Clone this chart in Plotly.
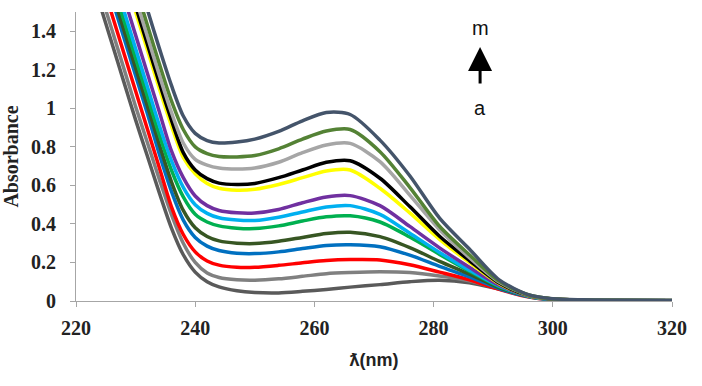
import plotly.graph_objects as go

wavelength = [222, 224, 226, 228, 230, 232, 234, 236, 238, 240, 242, 244, 247, 250, 254, 258,
              262, 266, 271, 276, 281, 286, 291, 296, 300, 305, 310, 320]

abs_a = [1.74, 1.54, 1.34, 1.14, 0.94, 0.75, 0.56, 0.38, 0.24, 0.15, 0.10, 0.073, 0.053, 0.044, 0.042, 0.05,
         0.06, 0.072, 0.085, 0.10, 0.108, 0.095, 0.062, 0.025, 0.01, 0.005, 0.003, 0.002]
abs_b = [1.81, 1.61, 1.41, 1.21, 1.01, 0.82, 0.63, 0.45, 0.30, 0.20, 0.145, 0.122, 0.11, 0.108, 0.115, 0.128,
         0.142, 0.148, 0.152, 0.148, 0.13, 0.105, 0.065, 0.025, 0.009, 0.004, 0.003, 0.002]
abs_c = [1.89, 1.69, 1.49, 1.29, 1.09, 0.89, 0.69, 0.49, 0.345, 0.255, 0.208, 0.186, 0.175, 0.175, 0.185, 0.198,
         0.21, 0.215, 0.213, 0.188, 0.15, 0.11, 0.06, 0.02, 0.006, 0.003, 0.002, 0.001]
abs_d = [1.97, 1.77, 1.57, 1.37, 1.17, 0.97, 0.76, 0.57, 0.42, 0.33, 0.285, 0.262, 0.248, 0.246, 0.255, 0.272,
         0.288, 0.292, 0.282, 0.238, 0.18, 0.125, 0.065, 0.022, 0.007, 0.003, 0.002, 0.001]
abs_e = [2.01, 1.81, 1.61, 1.41, 1.21, 1.01, 0.81, 0.62, 0.47, 0.38, 0.335, 0.312, 0.30, 0.298, 0.31, 0.33,
         0.35, 0.357, 0.334, 0.277, 0.206, 0.14, 0.07, 0.024, 0.008, 0.004, 0.002, 0.001]
abs_f = [2.06, 1.86, 1.66, 1.46, 1.26, 1.06, 0.86, 0.68, 0.54, 0.45, 0.41, 0.39, 0.378, 0.376, 0.39, 0.415,
         0.437, 0.442, 0.41, 0.332, 0.242, 0.155, 0.075, 0.025, 0.009, 0.004, 0.002, 0.001]
abs_g = [2.11, 1.91, 1.71, 1.51, 1.31, 1.11, 0.91, 0.73, 0.59, 0.50, 0.455, 0.432, 0.42, 0.418, 0.435, 0.462,
         0.488, 0.495, 0.45, 0.352, 0.252, 0.16, 0.078, 0.025, 0.009, 0.004, 0.002, 0.001]
abs_h = [2.18, 1.98, 1.78, 1.58, 1.38, 1.18, 0.98, 0.78, 0.64, 0.545, 0.495, 0.47, 0.458, 0.457, 0.475, 0.51,
         0.54, 0.547, 0.495, 0.387, 0.276, 0.175, 0.082, 0.026, 0.009, 0.004, 0.002, 0.001]
abs_i = [2.30, 2.10, 1.90, 1.70, 1.50, 1.30, 1.10, 0.91, 0.745, 0.66, 0.61, 0.585, 0.575, 0.58, 0.605, 0.64,
         0.675, 0.68, 0.585, 0.457, 0.32, 0.20, 0.09, 0.027, 0.01, 0.004, 0.002, 0.001]
abs_j = [2.33, 2.13, 1.93, 1.73, 1.53, 1.33, 1.13, 0.94, 0.77, 0.68, 0.635, 0.612, 0.605, 0.61, 0.64, 0.68,
         0.72, 0.728, 0.637, 0.49, 0.336, 0.21, 0.093, 0.028, 0.01, 0.004, 0.002, 0.001]
abs_k = [2.37, 2.17, 1.97, 1.77, 1.57, 1.37, 1.17, 0.98, 0.82, 0.735, 0.705, 0.69, 0.685, 0.69, 0.72, 0.77,
         0.81, 0.818, 0.723, 0.55, 0.37, 0.225, 0.098, 0.03, 0.011, 0.005, 0.003, 0.002]
abs_l = [2.43, 2.23, 2.03, 1.83, 1.63, 1.43, 1.23, 1.04, 0.89, 0.80, 0.765, 0.75, 0.748, 0.755, 0.79, 0.84,
         0.882, 0.89, 0.775, 0.59, 0.388, 0.24, 0.103, 0.031, 0.011, 0.005, 0.003, 0.002]
abs_m = [2.51, 2.31, 2.11, 1.91, 1.71, 1.51, 1.31, 1.12, 0.96, 0.87, 0.833, 0.82, 0.825, 0.84, 0.88, 0.935,
         0.978, 0.968, 0.835, 0.65, 0.43, 0.27, 0.11, 0.032, 0.012, 0.006, 0.004, 0.003]

series = [abs_a, abs_b, abs_c, abs_d, abs_e, abs_f, abs_g, abs_h, abs_i, abs_j, abs_k, abs_l, abs_m]
names = list("abcdefghijklm")
colors = ["#5A5A5A", "#808080", "#FF0000", "#0070C0", "#375623", "#00B050", "#00B0F0",
          "#7030A0", "#FFFF00", "#000000", "#A6A6A6", "#548235", "#44546A"]

x_ticks = [220, 240, 260, 280, 300, 320]
y_ticks = [0, 0.2, 0.4, 0.6, 0.8, 1, 1.2, 1.4]
y_tick_text = ["0", "0.2", "0.4", "0.6", "0.8", "1", "1.2", "1.4"]

fig = go.Figure()
for nm, vals, col in zip(names, series, colors):
    fig.add_trace(go.Scatter(x=wavelength, y=vals, mode="lines", name=nm,
                             line=dict(color=col, width=3.5, shape="spline", smoothing=0.8),
                             showlegend=False, hoverinfo="skip"))

serif = "Liberation Serif, Times New Roman, serif"
tick_font = dict(family=serif, size=20, color="#222222", weight="bold")

fig.update_layout(
    width=702, height=386,
    margin=dict(l=76, r=30, t=12, b=85),
    paper_bgcolor="white", plot_bgcolor="white",
    xaxis=dict(range=[220, 320], tickvals=x_ticks, ticktext=[str(v) for v in x_ticks],
               showgrid=False, zeroline=False, showline=True, linecolor="#A6A6A6", linewidth=1,
               ticks="outside", ticklen=5, tickcolor="#A6A6A6", tickfont=tick_font,
               ticklabelstandoff=4, automargin=False,
               title=dict(text="<b>ƛ(nm)</b>", font=dict(family="Liberation Sans, DejaVu Sans, Arial", size=18, color="#222222"))),
    yaxis=dict(range=[0, 1.5], tickvals=y_ticks, ticktext=y_tick_text,
               showgrid=False, zeroline=False, showline=True, linecolor="#A6A6A6", linewidth=1,
               ticks="outside", ticklen=5, tickcolor="#A6A6A6", tickfont=tick_font,
               ticklabelstandoff=10, automargin=False,
               title=dict(text="<b>Absorbance</b>", font=dict(family=serif, size=20, color="#222222"))),
)

fig.add_annotation(x=287.8, y=1.417, text="m", showarrow=False,
                   font=dict(family="Liberation Sans, Arial", size=20, color="#111111"))
fig.add_annotation(x=287.8, y=1.0, text="a", showarrow=False,
                   font=dict(family="Liberation Sans, Arial", size=20, color="#111111"))
fig.add_annotation(x=287.8, y=1.318, ax=0, ay=38, text="", showarrow=True,
                   arrowhead=2, arrowsize=1.6, arrowwidth=3, arrowcolor="#000000")

fig.write_html("out.html", config={"displayModeBar": False},
               post_script="document.body.style.margin='0';")
